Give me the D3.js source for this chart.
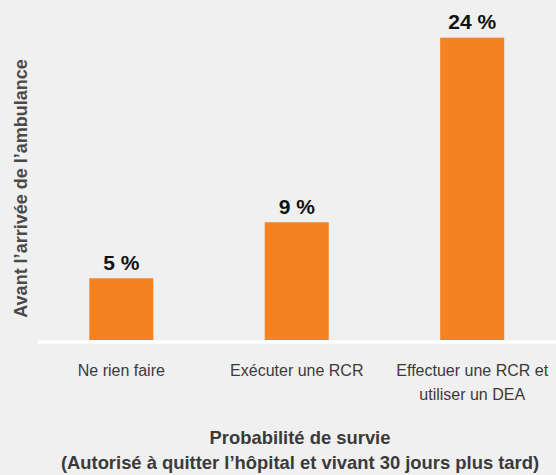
<!DOCTYPE html>
<html>
<head>
<meta charset="utf-8">
<script src="https://cdn.jsdelivr.net/npm/d3@7"></script>
<style>
  body { margin: 0; background: #f0f0f0; }
  svg { display: block; }
</style>
</head>
<body>
<div id="chart"></div>
<script>
// data (bar heights, labels as printed)
const categories = ["Ne rien faire", "Exécuter une RCR", "Effectuer une RCR et utiliser un DEA"];
const categoryLines = [["Ne rien faire"], ["Exécuter une RCR"], ["Effectuer une RCR et", "utiliser un DEA"]];
const survival = [4.9, 9.35, 24];
const valueLabels = ["5 %", "9 %", "24 %"];

const yTitle = "Avant l’arrivée de l’ambulance";
const xTitle = ["Probabilité de survie", "(Autorisé à quitter l’hôpital et vivant 30 jours plus tard)"];

const width = 556;
const height = 475;
const baseline = 340;

const svg = d3
  .select("#chart")
  .append("svg")
  .attr("width", width)
  .attr("height", height)
  .style("background", "#f0f0f0");

// scales
const x = d3
  .scaleBand()
  .domain(categories)
  .range([33.5, 560])
  .paddingInner(0.635)
  .paddingOuter(0.318);

const y = d3.scaleLinear().domain([0, 24]).range([baseline, 37.7]);

// bars
svg
  .selectAll(".bar")
  .data(survival)
  .enter()
  .append("rect")
  .attr("class", "bar")
  .attr("x", (d, i) => x(categories[i]))
  .attr("y", (d) => y(d))
  .attr("width", x.bandwidth())
  .attr("height", (d) => y(0) - y(d))
  .attr("fill", "#f58220");

// baseline (white)
svg
  .append("line")
  .attr("x1", 38)
  .attr("x2", width)
  .attr("y1", y(0) + 2)
  .attr("y2", y(0) + 2)
  .attr("stroke", "#ffffff")
  .attr("stroke-width", 3.5);

// value labels above bars
svg
  .selectAll(".val")
  .data(survival)
  .enter()
  .append("text")
  .attr("class", "val")
  .attr("x", (d, i) => x(categories[i]) + x.bandwidth() / 2)
  .attr("y", (d) => y(d) - 8.5)
  .attr("text-anchor", "middle")
  .style("font-family", "'Liberation Sans', Arial, sans-serif")
  .style("font-weight", "bold")
  .style("font-size", "21px")
  .style("fill", "#111")
  .text((d, i) => valueLabels[i]);

// category labels (may wrap on two lines)
const axis = d3.axisBottom(x).tickSize(0).tickFormat("");
const axisG = svg.append("g").attr("transform", `translate(0,${baseline})`).call(axis);
axisG.select(".domain").remove();

axisG
  .selectAll(".tick")
  .append("text")
  .attr("text-anchor", "middle")
  .style("font-family", "'Liberation Sans', Arial, sans-serif")
  .style("font-size", "16px")
  .style("fill", "#3a3a3a")
  .each(function (d, i) {
    const t = d3.select(this);
    categoryLines[i].forEach((line, k) => {
      t.append("tspan").attr("x", 0).attr("y", 36 + k * 24).text(line);
    });
  });

// y axis title
svg
  .append("text")
  .attr("transform", `translate(26.5,${188.5}) rotate(-90)`)
  .attr("text-anchor", "middle")
  .style("font-family", "'Liberation Sans', Arial, sans-serif")
  .style("font-weight", "bold")
  .style("font-size", "18px")
  .style("fill", "#4a4a4a")
  .text(yTitle);

// x axis title
svg
  .append("text")
  .attr("text-anchor", "middle")
  .style("font-family", "'Liberation Sans', Arial, sans-serif")
  .style("font-weight", "bold")
  .style("font-size", "18.4px")
  .style("fill", "#3a3a3a")
  .selectAll("tspan")
  .data(xTitle)
  .enter()
  .append("tspan")
  .attr("x", 300)
  .attr("y", (d, i) => 444 + i * 24.5)
  .text((d) => d);
</script>
</body>
</html>
